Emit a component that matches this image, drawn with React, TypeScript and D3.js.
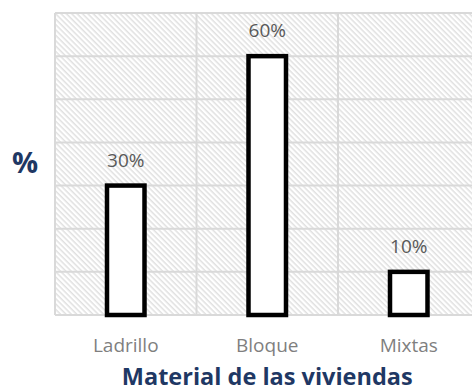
import React from "react";
import * as d3 from "d3";

const categories = ["Ladrillo", "Bloque", "Mixtas"];
const values = [30, 60, 10];
const dataLabels = ["30%", "60%", "10%"];
const yTicks = [0, 10, 20, 30, 40, 50, 60, 70];
const yAxisTitle = "%";
const xAxisTitle = "Material de las viviendas";

const W = 472;
const H = 391;
const plot = { left: 55, right: 479.5, top: 13, bottom: 315 };

export default function App() {
  const x = d3.scaleBand<string>().domain(categories).range([plot.left, plot.right]).padding(0);
  const y = d3.scaleLinear().domain([0, 70]).range([plot.bottom, plot.top]);
  const bw = x.bandwidth() * 0.265;
  const font = "'Open Sans', sans-serif";
  const gridColor = "#d9d9d9";
  const xBoundaries = [...categories.map((c) => x(c) as number), plot.right];

  return (
    <svg
      width={W}
      height={H}
      style={{ position: "absolute", left: 0, top: 0, background: "#fff" }}
    >
      <defs>
        <pattern
          id="hatch"
          patternUnits="userSpaceOnUse"
          width={3.8}
          height={3.8}
          patternTransform="rotate(45)"
        >
          <rect x={0} y={0} width={3.8} height={3.8} fill="#fff" />
          <rect x={0} y={0} width={3.8} height={1.5} fill="#e0e0e0" />
        </pattern>
        <clipPath id="clip">
          <rect x={0} y={0} width={W} height={H} />
        </clipPath>
      </defs>
      <rect width={W} height={H} fill="#fff" />
      <g clipPath="url(#clip)">
        <rect
          x={plot.left}
          y={plot.top}
          width={plot.right - plot.left}
          height={plot.bottom - plot.top}
          fill="url(#hatch)"
        />
        {yTicks.map((t) => (
          <line
            key={"h" + t}
            x1={plot.left}
            x2={plot.right}
            y1={y(t)}
            y2={y(t)}
            stroke={gridColor}
            strokeWidth={2}
          />
        ))}
        {xBoundaries.map((b, i) => (
          <line
            key={"v" + i}
            x1={b}
            x2={b}
            y1={plot.top}
            y2={plot.bottom}
            stroke={gridColor}
            strokeWidth={2}
          />
        ))}
        {categories.map((c, i) => {
          const cx = (x(c) as number) + x.bandwidth() / 2;
          return (
            <g key={c}>
              <rect
                x={cx - bw / 2}
                y={y(values[i])}
                width={bw}
                height={y(0) - y(values[i])}
                fill="#fff"
                stroke="#000"
                strokeWidth={4.5}
              />
              <text
                x={cx}
                y={y(values[i]) - 19}
                textAnchor="middle"
                fontFamily={font}
                fontSize={19}
                fill="#595959"
              >
                {dataLabels[i]}
              </text>
              <text
                x={cx}
                y={352}
                textAnchor="middle"
                fontFamily={font}
                fontSize={19}
                fill="#7f7f7f"
              >
                {c}
              </text>
            </g>
          );
        })}
      </g>
      <text
        x={25}
        y={173}
        textAnchor="middle"
        fontFamily={font}
        fontWeight="bold"
        fontSize={29}
        fill="#1f3864"
      >
        {yAxisTitle}
      </text>
      <text
        x={(plot.left + plot.right) / 2}
        y={385}
        textAnchor="middle"
        fontFamily={font}
        fontWeight="bold"
        fontSize={23.5}
        fill="#1f3864"
      >
        {xAxisTitle}
      </text>
    </svg>
  );
}
